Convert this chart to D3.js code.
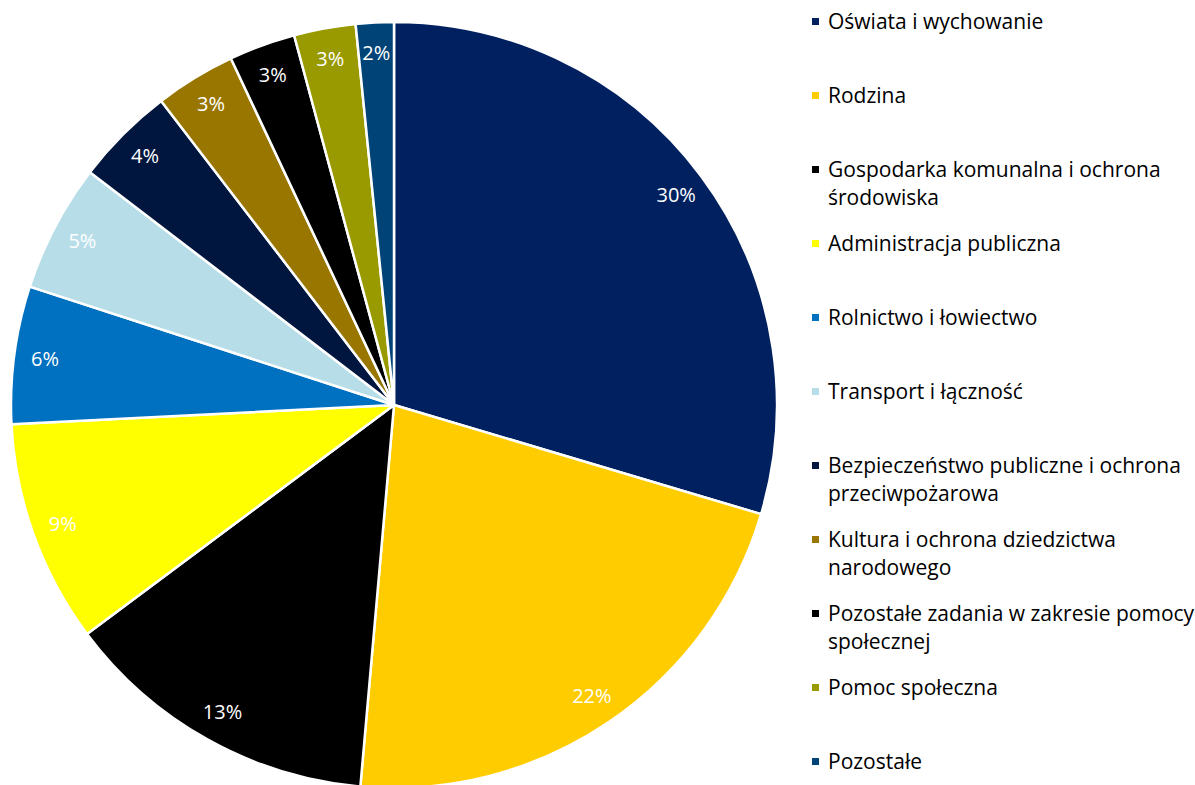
<!DOCTYPE html>
<html>
<head>
<meta charset="utf-8">
<script src="https://cdn.jsdelivr.net/npm/d3@7"></script>
<style>
  body { margin: 0; background: #fff; }
  svg { display: block; font-family: "Open Sans", Lato, sans-serif; }
</style>
</head>
<body>
<svg></svg>
<script>
var categories = ['Oświata i wychowanie', 'Rodzina', 'Gospodarka komunalna i ochrona środowiska',
    'Administracja publiczna', 'Rolnictwo i łowiectwo', 'Transport i łączność',
    'Bezpieczeństwo publiczne i ochrona przeciwpożarowa', 'Kultura i ochrona dziedzictwa narodowego',
    'Pozostałe zadania w zakresie pomocy społecznej', 'Pomoc społeczna', 'Pozostałe'];
var values = [29.6, 21.8, 13.4, 9.4, 5.8, 5.4, 4.2, 3.4, 2.8, 2.6, 1.6];
var colors = ['#002060', '#FFCC00', '#000000', '#FFFF00', '#0070C0', '#B7DEE8',
    '#00163F', '#987600', '#000000', '#999900', '#004477'];

var width = 1195,
    height = 785,
    cx = 394,
    cy = 405,
    r = 383;

var svg = d3.select('svg')
    .attr('width', width)
    .attr('height', height);

var data = categories.map(function (c, i) {
    return { name: c, value: values[i], color: colors[i] };
});
var total = d3.sum(values);

var pie = d3.pie()
    .sort(null)
    .value(function (d) { return d.value; });

var arc = d3.arc().innerRadius(0).outerRadius(r);
var labelArc = d3.arc().innerRadius(352).outerRadius(352);

var chart = svg.append('g')
    .attr('class', 'chart')
    .attr('transform', 'translate(' + cx + ',' + cy + ')');

var slices = chart.selectAll('.slice')
    .data(pie(data))
    .enter().append('g')
    .attr('class', 'slice');

slices.append('path')
    .attr('d', arc)
    .attr('fill', function (d) { return d.data.color; })
    .attr('stroke', '#fff')
    .attr('stroke-width', 2.5)
    .attr('stroke-linejoin', 'round');

var fmt = d3.format('.0%');
slices.append('text')
    .attr('transform', function (d) { return 'translate(' + labelArc.centroid(d) + ')'; })
    .attr('text-anchor', 'middle')
    .attr('dy', '0.35em')
    .attr('fill', '#fff')
    .style('font-size', '20px')
    .text(function (d) { return fmt(d.data.value / total); });

// legend
var legend = svg.append('g')
    .attr('class', 'legend')
    .attr('transform', 'translate(812,22)');

var li = legend.selectAll('.li')
    .data(data)
    .enter().append('g')
    .attr('class', 'li')
    .attr('transform', function (d, i) { return 'translate(0,' + (i * 74) + ')'; });

li.append('rect')
    .attr('x', 0)
    .attr('y', -4)
    .attr('width', 7)
    .attr('height', 7)
    .attr('fill', function (d) { return d.color; });

li.append('text')
    .attr('x', 16)
    .attr('y', 7)
    .attr('fill', '#000')
    .style('font-size', '21px')
    .each(function (d) {
        var t = d3.select(this),
            words = d.name.split(' '),
            line = [],
            tspan = t.append('tspan').attr('x', 16).attr('dy', 0);
        words.forEach(function (w) {
            line.push(w);
            tspan.text(line.join(' '));
            if (tspan.node().getComputedTextLength() > 372 && line.length > 1) {
                line.pop();
                tspan.text(line.join(' '));
                line = [w];
                tspan = t.append('tspan').attr('x', 16).attr('dy', 28).text(w);
            }
        });
    });
</script>
</body>
</html>
